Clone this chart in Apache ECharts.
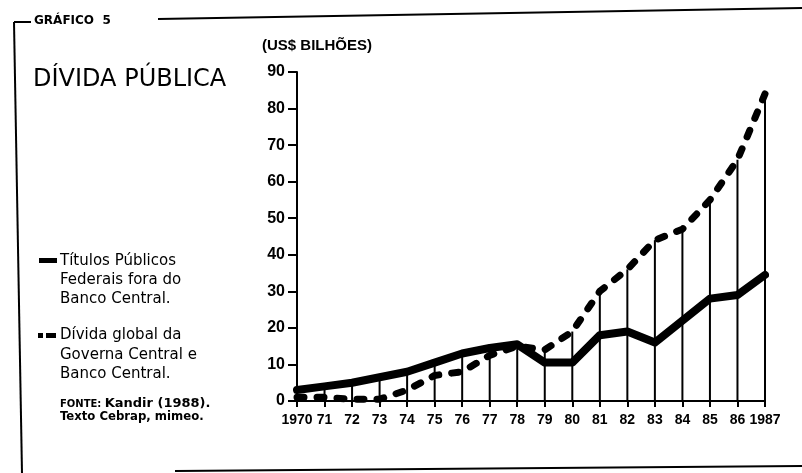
<!DOCTYPE html>
<html>
<head>
<meta charset="utf-8">
<script src="https://cdn.jsdelivr.net/npm/echarts@6/dist/echarts.min.js"></script>
<style>
  html, body { margin: 0; padding: 0; background: #fff; }
  #main { width: 802px; height: 473px; }
</style>
</head>
<body>
<div id="main"></div>
<script>
// data (US$ billions)
var years = ['1970', '71', '72', '73', '74', '75', '76', '77', '78', '79', '80', '81', '82', '83', '84', '85', '86', '1987'];
var titulos = [3, 4, 5, 6.5, 8, 10.5, 13, 14.5, 15.5, 10.5, 10.5, 18, 19, 16, 22, 28, 29, 34.5];
var dividaGlobal = [1, 1, 0.5, 0.5, 3, 7, 8, 12.5, 15, 14, 19, 30, 36, 44, 47, 55, 66, 84];
var yTicks = [0, 10, 20, 30, 40, 50, 60, 70, 80, 90];

// drop lines go up to whichever curve is higher that year
var dropLines = years.map(function (y, i) {
    return Math.max(titulos[i], dividaGlobal[i]);
});

var myChart = echarts.init(document.getElementById('main'));

var txtFont = '15px "DejaVu Sans"';

var option = {
    animation: false,
    backgroundColor: '#fff',
    grid: { left: 297, right: 37, top: 72, bottom: 72 },
    xAxis: {
        type: 'category',
        data: years,
        boundaryGap: false,
        axisLine: { lineStyle: { color: '#000', width: 2 } },
        axisTick: { length: 6, interval: 0, lineStyle: { color: '#000', width: 2 } },
        axisLabel: {
            interval: 0, margin: 12, color: '#000',
            fontFamily: 'Liberation Sans', fontWeight: 'bold', fontSize: 14
        }
    },
    yAxis: {
        type: 'value',
        min: yTicks[0],
        max: yTicks[yTicks.length - 1],
        interval: 10,
        name: '(US$ BILHÕES)',
        nameLocation: 'end',
        nameGap: 19,
        nameTextStyle: {
            align: 'left', padding: [0, 0, 0, -35], color: '#000',
            fontFamily: 'Liberation Sans', fontWeight: 'bold', fontSize: 15
        },
        axisLine: { show: true, lineStyle: { color: '#000', width: 2 } },
        axisTick: { show: true, length: 9, lineStyle: { color: '#000', width: 2 } },
        axisLabel: {
            margin: 12, color: '#000',
            fontFamily: 'Liberation Sans', fontWeight: 'bold', fontSize: 16
        },
        splitLine: { show: false }
    },
    series: [
        {
            name: 'drop',
            type: 'bar',
            data: dropLines,
            barWidth: 2,
            itemStyle: { color: '#000' },
            z: 1
        },
        {
            name: 'Títulos Públicos Federais fora do Banco Central',
            type: 'line',
            data: titulos,
            symbol: 'none',
            lineStyle: { color: '#000', width: 8, join: 'round', cap: 'round' },
            z: 3
        },
        {
            name: 'Dívida global do Governo Central e Banco Central',
            type: 'line',
            data: dividaGlobal,
            symbol: 'none',
            lineStyle: { color: '#000', width: 7, type: [7, 13], cap: 'round', join: 'round' },
            z: 4
        }
    ],
    graphic: [
        // frame
        { type: 'line', shape: { x1: 14, y1: 22, x2: 22, y2: 473 }, style: { stroke: '#000', lineWidth: 2 } },
        { type: 'line', shape: { x1: 14, y1: 22, x2: 31, y2: 22 }, style: { stroke: '#000', lineWidth: 2 } },
        { type: 'line', shape: { x1: 158, y1: 19, x2: 802, y2: 8 }, style: { stroke: '#000', lineWidth: 2 } },
        { type: 'line', shape: { x1: 175, y1: 471, x2: 802, y2: 466 }, style: { stroke: '#000', lineWidth: 2 } },
        { type: 'text', x: 34, y: 21, style: { text: 'GRÁFICO  5', font: 'bold 12px "DejaVu Sans"', fill: '#000', verticalAlign: 'middle' } },
        { type: 'text', x: 33, y: 80, style: { text: 'DÍVIDA PÚBLICA', font: '24px "DejaVu Sans"', fill: '#000', verticalAlign: 'middle' } },
        // legend
        { type: 'rect', shape: { x: 39, y: 258, width: 18, height: 5 }, style: { fill: '#000' } },
        { type: 'text', x: 60, y: 261, style: { text: 'Títulos Públicos', font: txtFont, fill: '#000', verticalAlign: 'middle' } },
        { type: 'text', x: 60, y: 280, style: { text: 'Federais fora do', font: txtFont, fill: '#000', verticalAlign: 'middle' } },
        { type: 'text', x: 60, y: 299, style: { text: 'Banco Central.', font: txtFont, fill: '#000', verticalAlign: 'middle' } },
        { type: 'rect', shape: { x: 38, y: 333, width: 5, height: 5 }, style: { fill: '#000' } },
        { type: 'rect', shape: { x: 46, y: 333, width: 10, height: 5 }, style: { fill: '#000' } },
        { type: 'text', x: 60, y: 335, style: { text: 'Dívida global da', font: txtFont, fill: '#000', verticalAlign: 'middle' } },
        { type: 'text', x: 60, y: 355, style: { text: 'Governa Central e', font: txtFont, fill: '#000', verticalAlign: 'middle' } },
        { type: 'text', x: 60, y: 374, style: { text: 'Banco Central.', font: txtFont, fill: '#000', verticalAlign: 'middle' } },
        {
            type: 'text', x: 60, y: 404,
            style: {
                text: '{s|FONTE:} {b|Kandir (1988).}',
                verticalAlign: 'middle', fill: '#000',
                rich: {
                    s: { font: 'bold 10px "DejaVu Sans"', fill: '#000' },
                    b: { font: 'bold 13px "DejaVu Sans"', fill: '#000' }
                }
            }
        },
        { type: 'text', x: 60, y: 417, style: { text: 'Texto Cebrap, mimeo.', font: 'bold 13px "DejaVu Sans Condensed"', fill: '#000', verticalAlign: 'middle' } }
    ]
};

myChart.setOption(option);
</script>
</body>
</html>
